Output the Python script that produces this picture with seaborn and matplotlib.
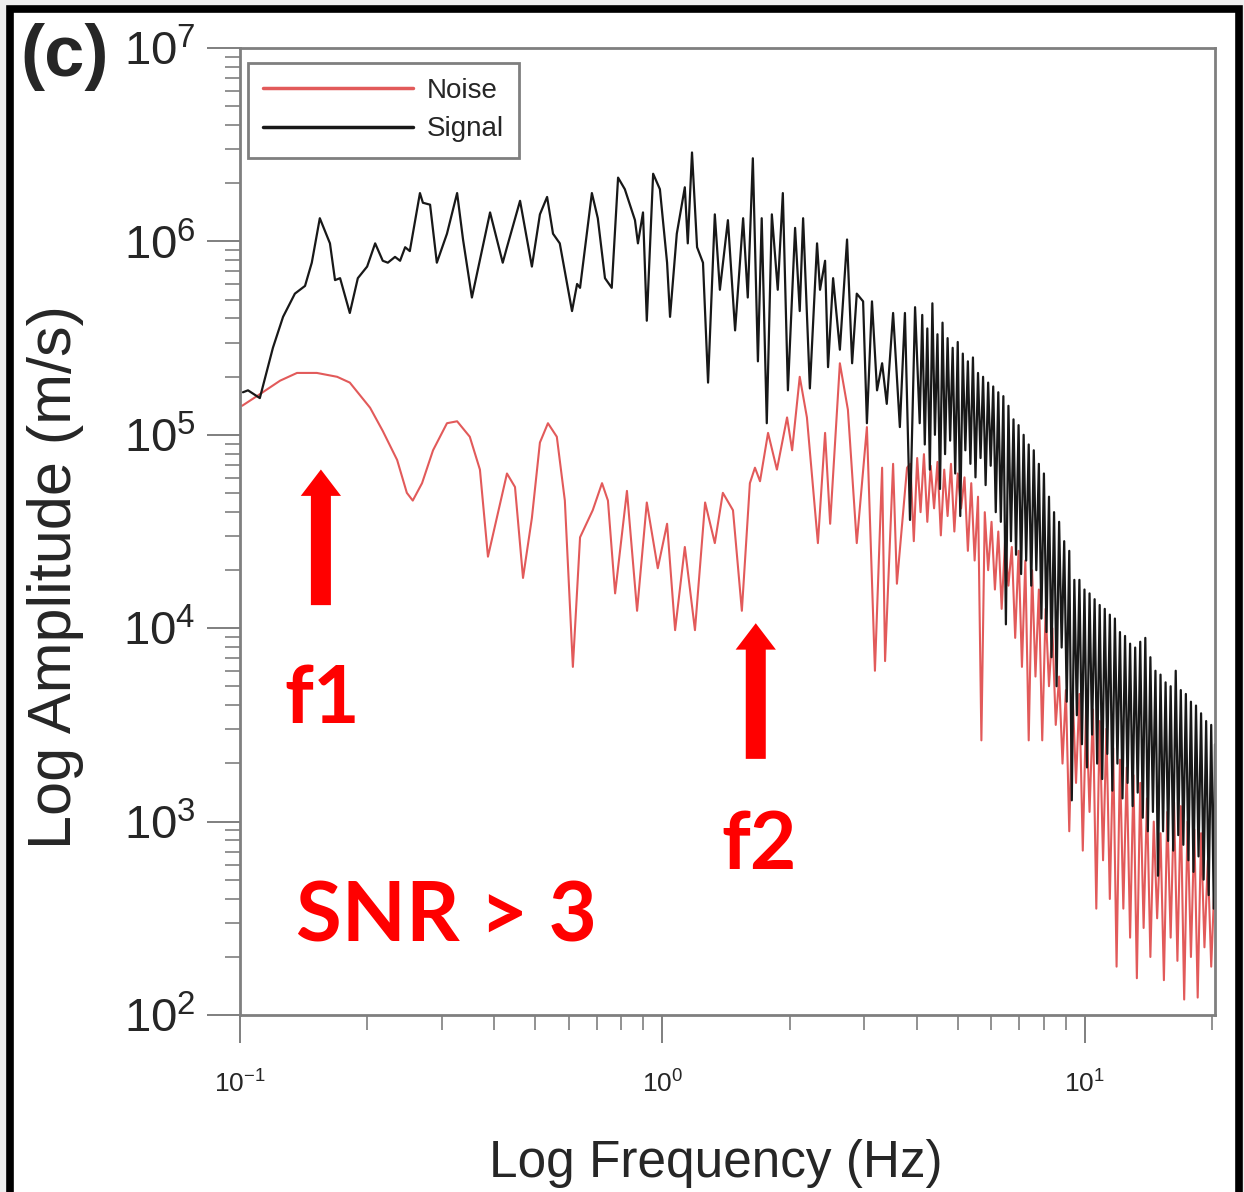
import numpy as np
import pandas as pd
import matplotlib
matplotlib.use("Agg")
import matplotlib.pyplot as plt
import seaborn as sns
from matplotlib.patches import Rectangle
from matplotlib.ticker import LogLocator, NullFormatter

# ---------------- data (log10 units) ----------------
signal_log10_freq = [
    -0.993, -0.981, -0.953, -0.922, -0.898, -0.870, -0.846, -0.830, -0.811, -0.787,
    -0.775, -0.763, -0.740, -0.721, -0.699, -0.680, -0.662, -0.650, -0.633, -0.621,
    -0.609, -0.598, -0.574, -0.567, -0.550, -0.534, -0.510, -0.486, -0.472, -0.451,
    -0.408, -0.378, -0.368, -0.337, -0.309, -0.290, -0.273, -0.259, -0.243, -0.214,
    -0.202, -0.195, -0.167, -0.153, -0.136, -0.120, -0.105, -0.089, -0.065, -0.058,
    -0.046, -0.037, -0.022, -0.006, 0.011, 0.018, 0.034, 0.053, 0.060, 0.070,
    0.082, 0.096, 0.108, 0.124, 0.136, 0.155, 0.172, 0.191, 0.202, 0.214,
    0.226, 0.235, 0.247, 0.259, 0.273, 0.285, 0.297, 0.314, 0.325, 0.333,
    0.349, 0.366, 0.373, 0.385, 0.392, 0.404, 0.420, 0.437, 0.449, 0.460,
    0.475, 0.484, 0.496, 0.508, 0.520, 0.531, 0.546, 0.562, 0.574, 0.586,
    0.598, 0.609,
    0.615, 0.621, 0.627, 0.633, 0.639, 0.645, 0.651, 0.657, 0.663, 0.669,
    0.675, 0.681, 0.687, 0.693, 0.699, 0.705, 0.711, 0.717, 0.723, 0.729,
    0.735, 0.741, 0.747, 0.753, 0.759, 0.765, 0.771, 0.777, 0.783, 0.789,
    0.795, 0.801, 0.807, 0.813, 0.819, 0.825, 0.831, 0.837, 0.843, 0.849,
    0.855, 0.861, 0.867, 0.873, 0.879, 0.885, 0.891, 0.897, 0.903, 0.909,
    0.915, 0.921, 0.927, 0.933, 0.939, 0.945, 0.951, 0.957, 0.963, 0.969,
    0.975, 0.981, 0.987, 0.993, 0.999, 1.005, 1.011, 1.017, 1.023, 1.029,
    1.035, 1.041, 1.047, 1.053, 1.059, 1.065, 1.071, 1.077, 1.083, 1.089,
    1.095, 1.101, 1.107, 1.113, 1.119, 1.125, 1.131, 1.137, 1.143, 1.149,
    1.155, 1.161, 1.167, 1.173, 1.179, 1.185, 1.191, 1.197, 1.203, 1.209,
    1.215, 1.221, 1.227, 1.233, 1.239, 1.245, 1.251, 1.257, 1.263, 1.269,
    1.275, 1.281, 1.287, 1.293, 1.299, 1.305, 1.308,
]
signal_log10_amp = [
    5.22, 5.23, 5.19, 5.45, 5.61, 5.73, 5.77, 5.89, 6.12, 5.99,
    5.80, 5.81, 5.63, 5.81, 5.87, 5.99, 5.90, 5.89, 5.92, 5.90,
    5.97, 5.95, 6.25, 6.20, 6.19, 5.89, 6.04, 6.25, 6.01, 5.71,
    6.15, 5.89, 5.97, 6.21, 5.87, 6.14, 6.23, 6.04, 5.99, 5.64,
    5.78, 5.76, 6.25, 6.12, 5.81, 5.76, 6.33, 6.27, 6.11, 5.99,
    6.15, 5.59, 6.35, 6.27, 5.89, 5.61, 6.04, 6.28, 5.99, 6.46,
    5.97, 5.89, 5.27, 6.14, 5.75, 6.11, 5.54, 6.12, 5.71, 6.43,
    5.38, 6.12, 5.06, 6.14, 5.75, 6.25, 5.23, 6.07, 5.64, 6.12,
    5.24, 5.99, 5.75, 5.90, 5.35, 5.81, 5.44, 6.01, 5.37, 5.73,
    5.69, 5.06, 5.69, 5.23, 5.37, 5.16, 5.63, 5.04, 5.63, 4.56,
    5.66, 5.06,
    5.62, 4.95, 5.55, 4.82, 5.68, 5.00, 5.52, 4.72, 5.58, 4.90,
    5.50, 4.97, 5.45, 4.80, 5.48, 4.58, 5.42, 4.92, 5.38, 4.85,
    5.40, 4.78, 5.32, 4.88, 5.30, 4.74, 5.27, 4.84, 5.25, 4.60,
    5.22, 4.55, 5.20, 4.02, 5.15, 4.45, 5.08, 4.38, 5.05, 4.28,
    5.00, 4.35, 4.95, 4.22, 4.92, 4.30, 4.85, 4.05, 4.80, 3.98,
    4.68, 3.85, 4.60, 3.70, 4.55, 3.90, 4.45, 3.62, 4.40, 3.11,
    4.25, 3.55, 4.25, 3.40, 4.20, 3.28, 4.18, 3.45, 4.15, 3.30,
    4.12, 3.22, 4.10, 3.35, 4.07, 3.16, 4.05, 3.30, 3.98, 3.12,
    3.96, 3.20, 3.92, 3.08, 3.90, 3.15, 3.93, 3.02, 3.95, 2.95,
    3.85, 3.05, 3.78, 2.72, 3.76, 2.95, 3.72, 2.90, 3.70, 2.85,
    3.78, 2.93, 3.68, 2.88, 3.66, 2.80, 3.62, 2.74, 3.60, 2.82,
    3.56, 2.70, 3.52, 2.62, 3.50, 2.55, 3.40,
]
noise_log10_freq = [
    -0.995, -0.953, -0.905, -0.865, -0.818, -0.770, -0.740, -0.692, -0.662, -0.628,
    -0.605, -0.591, -0.569, -0.543, -0.510, -0.486, -0.456, -0.432, -0.413, -0.392,
    -0.368, -0.349, -0.330, -0.309, -0.290, -0.271, -0.250, -0.231, -0.212, -0.195,
    -0.165, -0.143, -0.129, -0.112, -0.084, -0.060, -0.037, -0.011, 0.011, 0.030,
    0.053, 0.077, 0.101, 0.124, 0.143, 0.167, 0.188, 0.207, 0.219, 0.231,
    0.250, 0.271, 0.295, 0.307, 0.325, 0.342, 0.368, 0.385, 0.397, 0.420,
    0.439, 0.460, 0.484, 0.503, 0.520, 0.527, 0.546, 0.555, 0.579,
    0.587, 0.595, 0.603, 0.611, 0.619, 0.627, 0.635, 0.643, 0.651, 0.659,
    0.667, 0.675, 0.683, 0.691, 0.699, 0.707, 0.715, 0.723, 0.731, 0.739,
    0.747, 0.755, 0.763, 0.771, 0.779, 0.787, 0.795, 0.803, 0.811, 0.819,
    0.827, 0.835, 0.843, 0.851, 0.859, 0.867, 0.875, 0.883, 0.891, 0.899,
    0.907, 0.915, 0.923, 0.931, 0.939, 0.947, 0.955, 0.963, 0.971, 0.979,
    0.987, 0.995, 1.003, 1.011, 1.019, 1.027, 1.035, 1.043, 1.051, 1.059,
    1.067, 1.075, 1.083, 1.091, 1.099, 1.107, 1.115, 1.123, 1.131, 1.139,
    1.147, 1.155, 1.163, 1.171, 1.179, 1.187, 1.195, 1.203, 1.211, 1.219,
    1.227, 1.235, 1.243, 1.251, 1.259, 1.267, 1.275, 1.283, 1.291, 1.299,
    1.307,
]
noise_log10_amp = [
    5.15, 5.21, 5.28, 5.32, 5.32, 5.30, 5.27, 5.14, 5.02, 4.87,
    4.70, 4.66, 4.75, 4.92, 5.06, 5.07, 4.99, 4.82, 4.37, 4.57,
    4.80, 4.73, 4.26, 4.57, 4.96, 5.06, 4.99, 4.66, 3.80, 4.47,
    4.61, 4.75, 4.66, 4.18, 4.71, 4.09, 4.65, 4.31, 4.54, 3.99,
    4.42, 3.99, 4.65, 4.44, 4.70, 4.61, 4.09, 4.75, 4.83, 4.76,
    5.01, 4.82, 5.09, 4.92, 5.30, 5.09, 4.44, 5.01, 4.54, 5.37,
    5.13, 4.44, 5.04, 3.78, 4.83, 3.83, 4.85, 4.23, 4.83,
    4.85, 4.45, 4.88, 4.60, 4.90, 4.55, 4.84, 4.62, 4.86, 4.48,
    4.82, 4.58, 4.85, 4.50, 4.80, 4.62, 4.78, 4.40, 4.75, 4.35,
    4.68, 3.42, 4.60, 4.30, 4.55, 4.20, 4.50, 4.10, 4.45, 4.22,
    4.42, 3.95, 4.40, 3.80, 4.35, 3.42, 4.30, 3.75, 4.20, 3.42,
    4.10, 3.70, 4.00, 3.50, 3.75, 3.30, 3.68, 2.95, 3.66, 3.20,
    3.66, 2.85, 3.60, 3.05, 3.58, 2.55, 3.52, 2.80, 3.48, 2.60,
    3.38, 2.25, 3.32, 2.55, 3.28, 2.40, 3.24, 2.19, 3.20, 2.45,
    3.12, 2.30, 3.00, 2.50, 2.94, 2.18, 3.05, 2.40, 3.10, 2.28,
    3.08, 2.08, 3.00, 2.30, 2.96, 2.09, 2.94, 2.35, 2.80, 2.25,
    2.70,
]
series_names = ["Noise", "Signal"]
y_decades = [2, 3, 4, 5, 6, 7]
x_decades = [-1, 0, 1]
annotation_texts = ["f1", "f2", "SNR > 3"]
panel_label = "(c)"

# ---------------- style ----------------
sns.set_style("ticks")
plt.rcParams["font.family"] = ["Liberation Sans", "DejaVu Sans"]
plt.rcParams["mathtext.fontset"] = "custom"
plt.rcParams["mathtext.rm"] = "Liberation Sans"
plt.rcParams["mathtext.it"] = "Liberation Sans:italic"
plt.rcParams["mathtext.bf"] = "Liberation Sans:bold"

GRAY = "#7f7f7f"
fig = plt.figure(figsize=(12.44, 11.92), dpi=100, facecolor="#efefef")
fig.patches.append(Rectangle((0.0084, -0.05), 0.9876, 1.0424, transform=fig.transFigure,
                             facecolor="white", edgecolor="black", linewidth=5.5, zorder=-5))
ax = fig.add_axes([0.1929, 0.1485, 0.7838, 0.8112])

noise_df = pd.DataFrame({"freq": np.power(10.0, noise_log10_freq),
                         "amp": np.power(10.0, noise_log10_amp)})
signal_df = pd.DataFrame({"freq": np.power(10.0, signal_log10_freq),
                          "amp": np.power(10.0, signal_log10_amp)})

sns.lineplot(data=noise_df, x="freq", y="amp", ax=ax, color="#e25a5a", lw=1.5,
             estimator=None, sort=False, label=series_names[0])
sns.lineplot(data=signal_df, x="freq", y="amp", ax=ax, color="#181818", lw=1.6,
             estimator=None, sort=False, label=series_names[1])

ax.set_xscale("log")
ax.set_yscale("log")
ax.set_xlim(10.0 ** -1, 10.0 ** 1.308)
ax.set_ylim(10.0 ** 2, 10.0 ** 7)

ax.set_yticks([10.0 ** d for d in y_decades])
ax.set_yticklabels([r"$\mathregular{10^{%d}}$" % d for d in y_decades], fontsize=34)
ax.set_xticks([10.0 ** d for d in x_decades])
ax.set_xticklabels([r"$\mathregular{10^{%d}}$" % d for d in x_decades], fontsize=19)
ax.xaxis.set_minor_locator(LogLocator(base=10, subs=np.arange(2, 10)))
ax.yaxis.set_minor_locator(LogLocator(base=10, subs=np.arange(2, 10)))
ax.xaxis.set_minor_formatter(NullFormatter())
ax.yaxis.set_minor_formatter(NullFormatter())

ax.tick_params(axis="y", which="major", direction="out", length=24, width=1.4,
               color=GRAY, pad=8)
ax.tick_params(axis="y", which="minor", direction="out", length=11, width=1.2, color=GRAY)
ax.tick_params(axis="x", which="major", direction="out", length=20, width=1.4,
               color=GRAY, pad=20)
ax.tick_params(axis="x", which="minor", direction="out", length=11, width=1.2, color=GRAY)

for sp in ax.spines.values():
    sp.set_color(GRAY)
    sp.set_linewidth(2.0)

ax.set_xlabel("Log Frequency (Hz)", fontsize=37)
ax.set_ylabel("Log Amplitude (m/s)", fontsize=44)
ax.xaxis.set_label_coords(0.488, -0.128)
ax.yaxis.set_label_coords(-0.16, 0.453)

leg = ax.legend(loc="upper left", bbox_to_anchor=(0.008, 0.985), borderaxespad=0,
                fontsize=20, handlelength=5.4, handletextpad=0.5, labelspacing=0.45,
                borderpad=0.55, fancybox=False, framealpha=1)
leg.get_frame().set_edgecolor(GRAY)
leg.get_frame().set_linewidth(2.0)
for ln in leg.get_lines():
    ln.set_linewidth(2.5)

# arrows and annotations (axes fraction positions)
arrow_style = "simple, head_length=0.95, head_width=1.45, tail_width=0.72"
ax.annotate("", xy=(0.083, 0.567), xytext=(0.083, 0.421), xycoords="axes fraction",
            arrowprops=dict(arrowstyle=arrow_style, color="#ff0000", lw=0, mutation_scale=20))
ax.annotate("", xy=(0.529, 0.408), xytext=(0.529, 0.262), xycoords="axes fraction",
            arrowprops=dict(arrowstyle=arrow_style, color="#ff0000", lw=0, mutation_scale=20))
ax.text(0.084, 0.326, annotation_texts[0], transform=ax.transAxes, color="#ff0000",
        fontsize=58, fontweight="bold", family=["Lato", "DejaVu Sans"], ha="center", va="center")
ax.text(0.532, 0.175, annotation_texts[1], transform=ax.transAxes, color="#ff0000",
        fontsize=58, fontweight="bold", family=["Lato", "DejaVu Sans"], ha="center", va="center")
ax.text(0.212, 0.100, annotation_texts[2], transform=ax.transAxes, color="#ff0000",
        fontsize=60, fontweight="bold", family=["Lato", "DejaVu Sans"], ha="center", va="center")

fig.text(0.052, 0.952, panel_label, fontsize=52, fontweight="bold", ha="center", va="center")

fig.savefig("out.png", dpi=100, facecolor=fig.get_facecolor())
